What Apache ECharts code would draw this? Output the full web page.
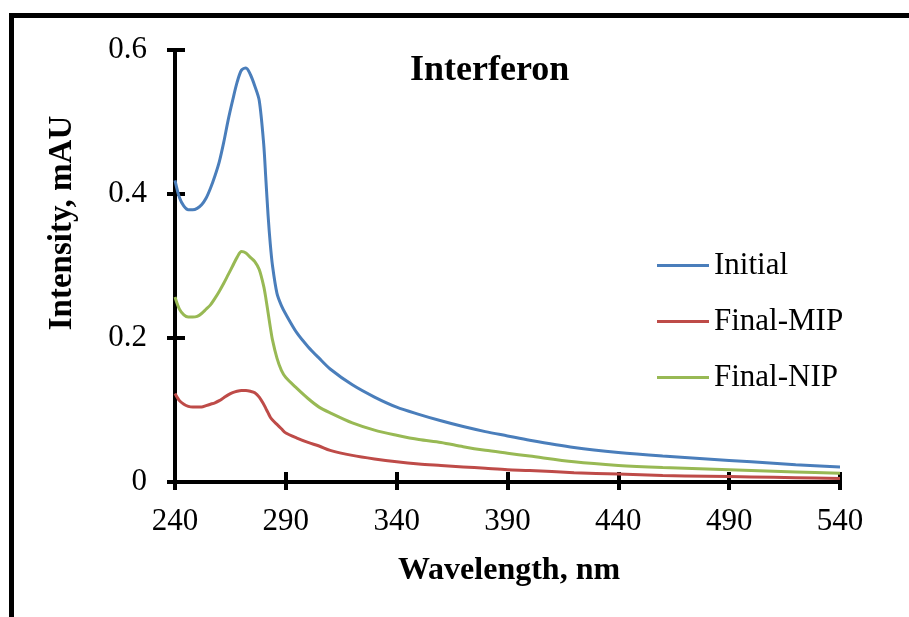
<!DOCTYPE html>
<html>
<head>
<meta charset="utf-8">
<title>Interferon</title>
<script src="https://cdn.jsdelivr.net/npm/echarts@6/dist/echarts.min.js"></script>
<style>
  html, body { margin: 0; padding: 0; background: #fff; }
  #chart { width: 909px; height: 617px; }
</style>
</head>
<body>
<div id="chart"></div>
<script>
// wavelength grid (nm) and the three spectra
const wavelengths = [240, 242, 244, 246, 248, 250, 252, 254, 256, 258, 260, 262, 264, 266, 268, 270, 272, 274, 276, 278,
  280, 281, 282, 283, 284, 286, 288, 290, 295, 300, 305, 310, 320, 330, 340, 350, 360, 370, 380, 390,
  400, 420, 440, 460, 480, 500, 520, 540];

const initial = [0.419, 0.395, 0.383, 0.378, 0.378, 0.380, 0.385, 0.394, 0.408, 0.425, 0.445, 0.472, 0.503, 0.530, 0.555, 0.572, 0.575, 0.566, 0.550, 0.530,
  0.470, 0.420, 0.370, 0.330, 0.300, 0.262, 0.245, 0.233, 0.207, 0.188, 0.172, 0.157, 0.135, 0.118, 0.104, 0.094, 0.085, 0.077, 0.070, 0.064,
  0.058, 0.048, 0.041, 0.036, 0.032, 0.028, 0.024, 0.021];

const finalMIP = [0.123, 0.113, 0.108, 0.105, 0.104, 0.104, 0.104, 0.106, 0.108, 0.110, 0.113, 0.117, 0.121, 0.124, 0.126, 0.127, 0.127, 0.126, 0.124, 0.118,
  0.108, 0.102, 0.096, 0.090, 0.086, 0.080, 0.074, 0.068, 0.061, 0.055, 0.050, 0.044, 0.037, 0.032, 0.028, 0.025, 0.023, 0.021, 0.019, 0.017,
  0.016, 0.013, 0.011, 0.009, 0.008, 0.007, 0.006, 0.005];

const finalNIP = [0.257, 0.240, 0.232, 0.229, 0.229, 0.230, 0.234, 0.240, 0.246, 0.255, 0.265, 0.276, 0.288, 0.300, 0.312, 0.320, 0.318, 0.312, 0.306, 0.295,
  0.272, 0.255, 0.235, 0.215, 0.197, 0.172, 0.155, 0.145, 0.130, 0.116, 0.104, 0.096, 0.082, 0.072, 0.065, 0.059, 0.055, 0.049, 0.044, 0.040,
  0.036, 0.028, 0.023, 0.020, 0.018, 0.016, 0.014, 0.012];

const seriesNames = ['Initial', 'Final-MIP', 'Final-NIP'];
const seriesColors = ['#4A7EBB', '#BE4B48', '#98B954'];

const FONT = "'Liberation Serif', 'Times New Roman', serif";

const pairs = vals => wavelengths.map((w, i) => [w, vals[i]]);

const chart = echarts.init(document.getElementById('chart'));

// axis pieces shared by the outer-tick and inner-tick copies
const xBase = { type: 'value', min: 240, max: 540, interval: 50, position: 'bottom', splitLine: { show: false } };
const yBase = { type: 'value', min: 0, max: 0.6, interval: 0.2, position: 'left', splitLine: { show: false } };
const tickStyle = { color: '#000', width: 4 };

chart.setOption({
  animation: false,
  backgroundColor: '#fff',
  title: {
    text: 'Interferon',
    left: 405, top: 48,
    textStyle: { fontFamily: FONT, fontSize: 36, fontWeight: 'bold', color: '#000' }
  },
  legend: {
    orient: 'vertical',
    left: 652, top: 245,
    icon: 'rect',
    itemWidth: 52, itemHeight: 3, itemGap: 25,
    data: seriesNames,
    textStyle: { fontFamily: FONT, fontSize: 31, color: '#000' }
  },
  grid: { left: 175, right: 69, top: 50, bottom: 135 },
  xAxis: [
    Object.assign({}, xBase, {
      axisLine: { lineStyle: { color: '#000', width: 4 } },
      axisTick: { show: true, inside: false, length: 8, lineStyle: tickStyle },
      axisLabel: { margin: 24, fontFamily: FONT, fontSize: 31, color: '#000' }
    }),
    Object.assign({}, xBase, {
      axisLine: { show: false },
      axisTick: { show: true, inside: true, length: 10, lineStyle: tickStyle },
      axisLabel: { show: false }
    })
  ],
  yAxis: [
    Object.assign({}, yBase, {
      axisLine: { lineStyle: { color: '#000', width: 4 } },
      axisTick: { show: true, inside: false, length: 8, lineStyle: tickStyle },
      axisLabel: { margin: 28, fontFamily: FONT, fontSize: 31, color: '#000' }
    }),
    Object.assign({}, yBase, {
      axisLine: { show: false },
      axisTick: { show: true, inside: true, length: 10, lineStyle: tickStyle },
      axisLabel: { show: false }
    })
  ],
  series: [initial, finalMIP, finalNIP].map((vals, i) => ({
    name: seriesNames[i],
    type: 'line',
    data: pairs(vals),
    symbol: 'none',
    smooth: 0.3,
    lineStyle: { color: seriesColors[i], width: 3 },
    itemStyle: { color: seriesColors[i] }
  })),
  graphic: [
    // figure frame (left and top edges)
    { type: 'line', shape: { x1: 11.5, y1: 13, x2: 11.5, y2: 617 }, style: { stroke: '#000', lineWidth: 5 } },
    { type: 'line', shape: { x1: 9, y1: 15.5, x2: 909, y2: 15.5 }, style: { stroke: '#000', lineWidth: 5 } },
    {
      type: 'text', x: 62, y: 223, rotation: Math.PI / 2,
      style: { text: 'Intensity, mAU', fontFamily: FONT, fontSize: 33, fontWeight: 'bold', fill: '#000', align: 'center', verticalAlign: 'middle' }
    },
    {
      type: 'text', x: 509, y: 571,
      style: { text: 'Wavelength, nm', fontFamily: FONT, fontSize: 32, fontWeight: 'bold', fill: '#000', align: 'center', verticalAlign: 'middle' }
    }
  ]
});
</script>
</body>
</html>
